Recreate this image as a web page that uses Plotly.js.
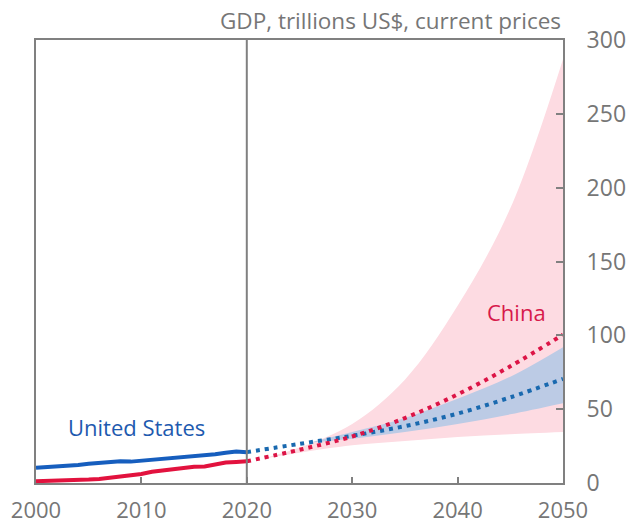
<!DOCTYPE html>
<html><head><meta charset="utf-8">
<script src="https://cdn.plot.ly/plotly-3.0.1.min.js"></script>
<style>html,body{margin:0;padding:0;background:#fff}#chart{width:630px;height:529px}</style>
</head><body><div id="chart"></div>
<script>
const histYears = [2000,2001,2002,2003,2004,2005,2006,2007,2008,2009,2010,2011,2012,2013,2014,2015,2016,2017,2018,2019,2020];
const usHist = [10.25,10.58,10.94,11.46,12.21,13.04,13.82,14.47,14.77,14.48,15.05,15.60,16.25,16.84,17.55,18.21,18.70,19.48,20.53,21.38,20.89];
const cnHist = [1.21,1.34,1.47,1.66,1.96,2.29,2.75,3.55,4.59,5.10,6.09,7.55,8.53,9.57,10.48,11.06,11.23,12.31,13.89,14.28,14.72];

const projYears = [2020,2025,2030,2035,2040,2045,2050];
const usProj = [20.9,26.5,32,38.5,47,58,70.5];
const cnProj = [14.7,22.5,31.5,44,60,79,100.5];

const cnBandYears = [2022,2025,2030,2035,2040,2045,2050];
const cnBandLow = [17,20.5,25.5,28.5,31.2,33,34.5];
const cnBandHigh = [17.5,24,40,70,120,186,287];

const usBandYears = [2026,2030,2035,2040,2045,2050];
const usBandLow = [27.5,30,34.5,40,46.5,54];
const usBandHigh = [27.5,34.5,44,57,72,92];

const xTicks = [2000,2010,2020,2030,2040,2050];
const yTicks = [0,50,100,150,200,250,300];

const BLUE = 'rgb(22,94,190)', RED = 'rgb(226,18,62)';
const BLUE_DOT = 'rgb(25,105,175)', RED_DOT = 'rgb(220,20,70)';
const PINK = 'rgb(253,219,226)', BAND_BLUE = 'rgb(188,203,229)';
const GREY = 'rgb(128,128,128)', TXT = 'rgb(118,118,118)';
const FONT = '"Open Sans", Lato, sans-serif';

const traces = [
  {x: cnBandYears, y: cnBandLow, mode:'lines', line:{width:0, shape:'spline'}, hoverinfo:'skip', showlegend:false},
  {x: cnBandYears, y: cnBandHigh, mode:'lines', line:{width:0, shape:'spline'}, fill:'tonexty', fillcolor:PINK, hoverinfo:'skip', showlegend:false},
  {x: usBandYears, y: usBandLow, mode:'lines', line:{width:0, shape:'spline'}, hoverinfo:'skip', showlegend:false},
  {x: usBandYears, y: usBandHigh, mode:'lines', line:{width:0, shape:'spline'}, fill:'tonexty', fillcolor:BAND_BLUE, hoverinfo:'skip', showlegend:false},
  {x: projYears, y: usProj, mode:'lines', line:{color:BLUE_DOT, width:4, dash:'4px,5px', shape:'spline'}, showlegend:false},
  {x: projYears, y: cnProj, mode:'lines', line:{color:RED_DOT, width:4, dash:'4px,5px', shape:'spline'}, showlegend:false},
  {x: histYears, y: usHist, mode:'lines', line:{color:BLUE, width:4}, showlegend:false},
  {x: histYears, y: cnHist, mode:'lines', line:{color:RED, width:4}, showlegend:false}
];

const layout = {
  width:630, height:529,
  margin:{l:36, r:67, t:40, b:46},
  paper_bgcolor:'#fff', plot_bgcolor:'#fff',
  font:{family:FONT, color:TXT, size:22},
  xaxis:{range:[2000,2050], tickvals:xTicks, ticktext:xTicks.map(String), showgrid:false, zeroline:false,
    showline:true, mirror:true, linecolor:GREY, linewidth:2, ticks:'inside', ticklen:6, tickcolor:GREY, tickwidth:2,
    tickfont:{family:FONT, size:22, color:TXT}, ticklabelstandoff:7, fixedrange:true},
  yaxis:{range:[0,300], side:'right', tickvals:yTicks, ticktext:yTicks.map(String), showgrid:false, zeroline:false,
    showline:true, mirror:true, linecolor:GREY, linewidth:2, ticks:'inside', ticklen:7, tickcolor:GREY, tickwidth:2,
    tickfont:{family:FONT, size:23, color:TXT}, ticklabelstandoff:17, fixedrange:true},
  shapes:[{type:'line', xref:'x', yref:'paper', x0:2020, x1:2020, y0:0, y1:1, line:{color:GREY, width:2}}],
  annotations:[
    {text:'GDP, trillions US$, current prices', xref:'paper', yref:'paper', x:1, y:1, xanchor:'right', yanchor:'bottom', yshift:2, showarrow:false, font:{family:FONT, size:22.5, color:TXT}},
    {text:'United States', xref:'x', yref:'y', x:2009.5, y:38.1, showarrow:false, font:{family:FONT, size:22, color:'rgb(30,90,175)'}},
    {text:'China', xref:'x', yref:'y', x:2045.6, y:116, showarrow:false, font:{family:FONT, size:22, color:'rgb(215,25,75)'}}
  ],
  showlegend:false
};
Plotly.newPlot('chart', traces, layout, {staticPlot:true, displayModeBar:false});
</script></body></html>
